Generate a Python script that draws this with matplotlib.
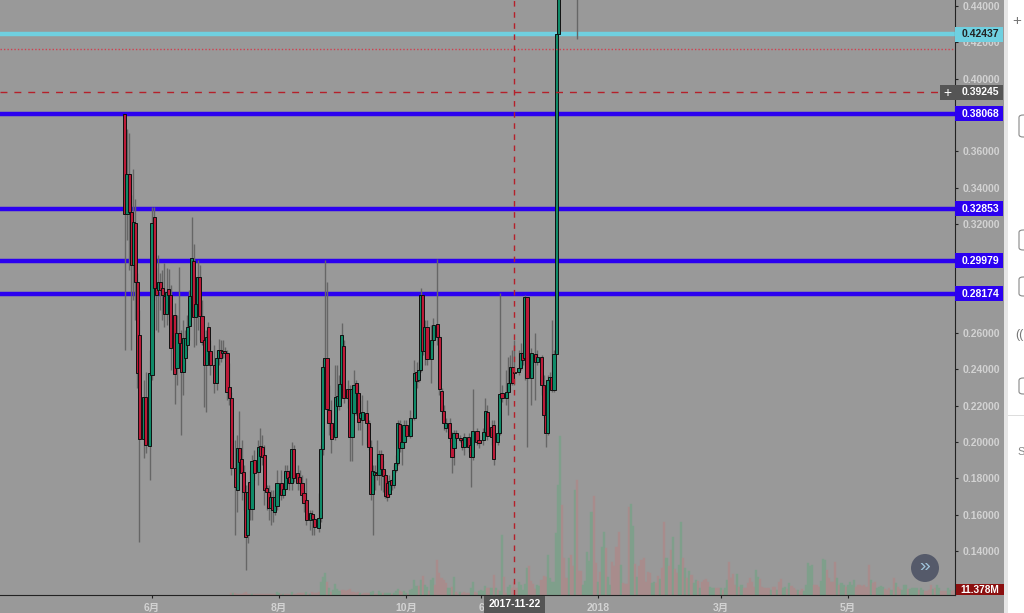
import matplotlib
matplotlib.use("Agg")
import matplotlib.pyplot as plt
from matplotlib.patches import Rectangle, Ellipse, FancyBboxPatch

plt.rcParams['font.family'] = ['Liberation Sans', 'Noto Sans CJK SC', 'DejaVu Sans']

# candles, day number counted from 2017-06-01
days = [-13,-12,-11,-10,-9,-8,-7,-6,-4,-3,-1,0,1,2,3,4,5,6,7,8,9,11,12,13,14,15,16,17,18,19,
        20,21,22,23,24,25,26,27,28,30,31,32,33,34,35,36,37,38,40,41,42,43,44,45,46,47,48,49,51,52,
        53,54,55,56,57,58,59,60,62,63,64,65,66,67,68,70,71,72,73,74,76,77,78,80,81,82,83,84,85,86,
        88,89,90,91,92,94,95,96,97,98,99,100,101,103,104,105,106,107,108,109,110,111,112,113,114,115,116,117,118,119,
        120,121,122,124,126,127,128,129,130,131,132,134,135,137,138,139,140,141,143,144,145,146,148,149,150,152,153,154,156,157,
        159,160,161,163,164,166,167,168,170,171,172,173,174,176,177,178,179,180,182,184,185,187,188,189,190,191,192,193,194,195,204]
opens = [.3805,.3255,.3475,.3266,.2975,.3206,.2881,.2589,.2017,.2248,.1978,.2369,.3238,.2848,.2837,.2881,.2848,.2804,.2705,.2842,.2809,.2699,.2407,.2600,.2545,.2385,.2462,.2534,.2639,.2804,
         .2996,.2688,.2760,.2908,.2694,.2562,.2424,.2633,.2501,.2424,.2325,.2462,.2507,.2490,.2501,.2490,.2303,.2242,.1857,.1736,.1967,.1906,.1835,.1725,.1488,.1780,.1631,.1901,.1835,.1978,
         .1972,.1928,.1747,.1725,.1637,.1697,.1615,.1648,.1774,.1708,.1741,.1840,.1807,.1774,.1961,.1829,.1807,.1774,.1719,.1681,.1571,.1604,.1576,.1527,.1582,.1961,.2413,.2462,.2176,.2105,
         .2028,.2198,.2198,.2319,.2529,.2292,.2292,.2028,.2160,.2325,.2270,.2132,.2121,.2160,.2105,.1972,.1714,.1818,.1829,.1818,.1934,.1851,.1818,.1774,.1714,.1791,.1763,.1846,.1884,.2099,
         .1967,.2000,.2094,.2033,.2132,.2385,.2341,.2396,.2809,.2501,.2633,.2457,.2562,.2650,.2578,.2281,.2171,.2077,.2105,.2022,.1967,.2050,.2022,.2011,.1972,.2028,.1983,.1917,.2061,.2011,
         .2011,.2055,.2165,.2083,.2094,.2000,.2050,.2270,.2242,.2275,.2325,.2413,.2385,.2385,.2407,.2490,.2462,.2798,.2352,.2484,.2440,.2468,.2314,.2149,.2050,.2341,.2358,.2286,.2484,.4246,.47]
closes = [.3255,.3475,.3266,.2975,.3211,.2881,.2380,.2017,.2248,.1983,.2380,.3206,.2848,.2809,.2881,.2837,.2809,.2705,.2826,.2809,.2517,.2374,.2600,.2545,.2385,.2573,.2573,.2633,.2804,.3013,
          .2688,.2760,.2908,.2694,.2551,.2424,.2578,.2501,.2424,.2325,.2462,.2507,.2462,.2501,.2490,.2275,.2242,.1857,.1752,.1967,.1890,.1829,.1725,.1477,.1725,.1631,.1895,.1829,.1972,.1923,
          .1917,.1736,.1725,.1637,.1697,.1626,.1697,.1774,.1708,.1741,.1840,.1802,.1774,.1961,.1802,.1774,.1774,.1708,.1664,.1571,.1609,.1576,.1532,.1582,.1961,.2413,.2462,.2182,.2105,.2017,
          .2248,.2253,.2319,.2589,.2242,.2242,.2028,.2292,.2314,.2270,.2110,.2160,.2165,.2105,.1972,.1714,.1840,.1835,.1818,.1934,.1851,.1813,.1703,.1697,.1785,.1763,.1846,.1884,.2105,.1967,
          .2000,.2094,.2033,.2132,.2380,.2336,.2396,.2809,.2501,.2633,.2457,.2562,.2644,.2578,.2292,.2171,.2105,.2105,.2022,.1917,.2050,.2022,.2011,.1972,.2028,.1972,.1917,.2061,.2000,.1994,
          .2055,.2171,.2033,.2028,.1906,.2050,.2264,.2242,.2275,.2325,.2413,.2325,.2380,.2407,.2490,.2451,.2798,.2352,.2490,.2440,.2468,.2314,.2149,.2050,.2341,.2358,.2286,.2484,.4246,.47,.48]
highs = [.3805,.3723,.3701,.3360,.3503,.3338,.2930,.2727,.2341,.2385,.2507,.3294,.3294,.2958,.3029,.2930,.2947,.2985,.2958,.2952,.2864,.2765,.2699,.2963,.2617,.2672,.2617,.2699,.2837,.3238,
         .3090,.2892,.3002,.2974,.2782,.2617,.2617,.2661,.2562,.2534,.2507,.2567,.2562,.2562,.2523,.2507,.2435,.2275,.2011,.2039,.2171,.2011,.1873,.1763,.1763,.1846,.1928,.1956,.2011,.2077,
         .2039,.1983,.1763,.1763,.1736,.1736,.1708,.1846,.1846,.1763,.1873,.1873,.1846,.2000,.1983,.1873,.1846,.1818,.1736,.1802,.1626,.1626,.1598,.1719,.1983,.2451,.3002,.2881,.2314,.2231,
         .2424,.2424,.2369,.2655,.2562,.2341,.2314,.2314,.2396,.2341,.2314,.2231,.2259,.2231,.2121,.2011,.1873,.1873,.2011,.1956,.1956,.1901,.1846,.1802,.1818,.1802,.1873,.1928,.2121,.2121,
         .2011,.2121,.2121,.2176,.2451,.2440,.2451,.2848,.2809,.2672,.2672,.2644,.2683,.3007,.2589,.2297,.2204,.2132,.2132,.2055,.2066,.2066,.2039,.2022,.2050,.2050,.2011,.2292,.2077,.2039,
         .2077,.2242,.2204,.2121,.2121,.2094,.2820,.2314,.2396,.2468,.2479,.2507,.2562,.2507,.2545,.2507,.2809,.2798,.2517,.2600,.2507,.2479,.2369,.2176,.2369,.2385,.2672,.2507,.4246,.475,.49]
lows = [.2507,.3112,.2947,.2507,.2782,.2672,.2297,.1449,.1912,.1939,.1791,.2341,.2782,.2617,.2606,.2727,.2672,.2633,.2644,.2672,.2396,.2209,.2314,.2451,.2039,.2259,.2396,.2507,.2562,.2727,
        .2523,.2534,.2617,.2562,.2534,.2193,.2165,.2479,.2369,.2270,.2286,.2424,.2440,.2462,.2462,.2231,.2204,.1818,.1488,.1615,.1736,.1681,.1626,.1296,.1444,.1571,.1571,.1791,.1763,.1846,
        .1873,.1653,.1626,.1571,.1543,.1560,.1598,.1626,.1681,.1692,.1725,.1763,.1736,.1736,.1780,.1736,.1736,.1681,.1615,.1543,.1516,.1488,.1488,.1505,.1560,.1928,.2385,.2176,.2039,.1939,
        .2011,.2176,.2176,.2259,.2215,.2187,.1895,.1895,.2149,.2149,.2066,.2066,.1983,.1983,.1956,.1681,.1488,.1736,.1791,.1763,.1736,.1725,.1692,.1675,.1697,.1736,.1747,.1835,.1873,.1945,
        .1873,.1967,.2011,.2022,.2121,.2297,.2330,.2385,.2479,.2424,.2424,.2325,.2534,.2534,.2259,.2121,.2066,.2055,.2000,.1829,.1873,.2011,.2000,.1956,.1928,.1945,.1752,.1901,.1983,.1967,
        .1983,.2039,.2011,.1983,.1873,.1983,.2039,.2220,.2204,.2149,.2314,.2314,.2314,.2369,.2396,.2424,.2341,.1972,.2204,.2231,.2424,.2259,.2132,.1972,.2039,.2314,.2275,.2275,.2484,.4246,.4218]

# volume in millions, one bar a day from day 38
vol_start = 38
vol_m = [3.8,5.3,4.6,2.3,2.3,1.5,4.6,6.8,2.3,2.3,2.3,2.3,2.3,1.5,1.5,1.5,1.5,1.5,1.5,1.5,1.5,2.3,6.1,3.8,2.3,1.5,1.5,3,2.3,6.1,3,3,4.6,3.8,3.8,5.3,6.1,2.3,3,6.8,4.6,3.8,
         7.6,30,42,49,30,15,6.1,11,24,14,9.1,11,11,9.1,11,14,6.1,7.6,4.6,7.6,4.6,3,3.8,4.6,4.6,7.6,9.1,3,3,8.4,3.8,4.6,5.3,4.6,3.8,3,4.6,9.1,14,9.1,7.6,9.1,4.6,3,11,14,
         34,21,21,34,44,23,19,9.1,34,38,23,80,49,38,34,27,15,17,19,42,7.6,3,6.1,3.8,6.1,3.8,3.8,15,29,7.6,4.6,9.1,11,9.1,21,17,17,
         15,46,15,11,8,137,42,4,19,23,15,30,15,29,23,11,24,62,66,32,24,14,23,21,34,43,40,91,38,30,30,141,251,361,204,85,38,84,91,66,239,262,55,55,23,32,97,78,188,226,72,29,53,110,144,106,40,23,74,65,110,144,68,27,25,24,201,207,157,70,42,65,80,84,30,52,51,
         27,29,27,44,36,61,166,84,65,103,131,59,49,68,166,85,61,38,55,46,27,34,32,15,30,34,36,30,19,15,17,15,15,17,11,15,34,74,38,47,23,47,19,23,15,17,27,38,30,19,57,42,36,19,17,17,15,11,19,19,11,30,36,17,19,14,27,21,17,11,11,9,14,8,23,72,65,
         68,23,23,19,32,82,80,57,38,30,30,76,38,23,27,23,19,23,29,23,34,19,23,23,21,23,19,68,34,27,30,15,19,21,19,14,11,15,11,38,27,19,14,11,23,23,14,14,15,15,17,11,17,11,9,9,11,23,14,17,23,15,9,9,8,15,11,9,11.4]
# days whose volume bar is green, all others are red
vol_up_days = [39,48,60,61,63,67,74,76,81,82,83,85,87,88,89,90,100,105,106,109,110,112,113,114,116,117,118,121,122,124,125,126,127,129,131,132,134,135,142,143,145,148,153,154,157,158,159,160,
               163,165,167,168,171,172,176,177,178,179,180,185,186,190,191,192,193,194,195,196,200,203,207,208,209,210,211,214,216,217,219,220,225,230,231,233,
               240,241,244,247,250,253,254,256,258,260,261,263,268,269,270,273,275,276,281,283,290,291,297,300,303,304,306,310,313,314,315,316,
               317,321,322,323,329,331,332,334,335,336,337,345,348,349,350,351,355,357,360,361,362,364,365,366,367,369,370,375,377,378,382,383]

level_vals = [0.38068, 0.32853, 0.29979, 0.28174]
cyan_val = 0.42437
dotted_val = 0.4163
cross_val = 0.39245
cross_day = 174
last_vol = '11.378M'

# 0.28, 0.30 and 0.38 sit behind the price tags in the picture
yticks = [0.14, 0.16, 0.18, 0.20, 0.22, 0.24, 0.26, 0.32, 0.34, 0.36, 0.40, 0.42, 0.44]
xtick_days = [0, 61, 122, 158, 214, 273, 334]
xtick_labels = ['6月', '8月', '10月', '6', '2018', '3月', '5月']

BG = '#999999'
fig = plt.figure(figsize=(10.24, 6.13), dpi=100, facecolor=BG)
W, H = 1024.0, 613.0

ax2 = fig.add_axes([0, 18 / H, 955 / W, 595 / H])
ax = fig.add_axes([0, 18 / H, 955 / W, 595 / H])
ax.patch.set_visible(False)
ax2.set_facecolor(BG)
xlim = (-72.97, 385.5)
ax.set_xlim(xlim)
ax.set_ylim(0.1158, 0.4433)
ax2.set_xlim(xlim)
ax2.set_ylim(0, 1354)
ax2.axis('off')

# volume underneath everything
vol_days = [vol_start + i for i in range(len(vol_m))]
vol_cols = ['#7f9f8b' if d in vol_up_days else '#a88c8c' for d in vol_days]
ax2.bar(vol_days, vol_m, width=1.0, color=vol_cols, edgecolor=vol_cols, linewidth=0.3, zorder=1)

# support and resistance lines
for v in level_vals:
    ax.axhline(v, color='#2b00f0', lw=3.2, zorder=1)
ax.axhline(cyan_val, color='#6fd0e0', lw=3.2, zorder=1)

# candles
ax.vlines(days, lows, highs, color='#666666', lw=1.0, zorder=2)
bottoms = [min(o, c) for o, c in zip(opens, closes)]
heights = [abs(o - c) for o, c in zip(opens, closes)]
cols = ['#0f8a68' if c > o else '#bc1a38' for o, c in zip(opens, closes)]
ax.bar(days, heights, bottom=bottoms, width=1.5, color=cols, edgecolor='#111111', linewidth=0.7, zorder=3)

# crosshair and dotted line
ax.axhline(dotted_val, color='#d04050', lw=1.0, ls=(0, (1, 1.5)), zorder=4)
ax.plot([xlim[0], 378], [cross_val, cross_val], color='#b5202a', lw=1.0, ls=(0, (5, 5)), zorder=4)
ax.axvline(cross_day, color='#b5202a', lw=1.0, ls=(0, (4, 4)), zorder=4)

for s in ['top', 'left']:
    ax.spines[s].set_visible(False)
ax.spines['right'].set_color('#222222')
ax.spines['bottom'].set_color('#222222')
ax.yaxis.tick_right()
ax.set_yticks(yticks)
ax.set_yticklabels(['%.5f' % t for t in yticks], fontsize=7.5, color='#d2d2d2', fontweight='bold')
ax.set_xticks(xtick_days)
ax.set_xticklabels(xtick_labels, fontsize=7.5, color='#d2d2d2', fontweight='bold')
ax.tick_params(axis='y', length=2.5, width=0.8, color='#222222', pad=3)
ax.tick_params(axis='x', length=2.5, width=0.8, color='#222222', pad=3)

# price tags on the axis
ytr = ax.get_yaxis_transform()


def tag(val, color, text, tcolor, h=0.0041):
    ax.add_patch(Rectangle((1.0, val - h), 0.0503, 2 * h, transform=ytr, color=color,
                           clip_on=False, zorder=10, lw=0))
    ax.text(1.0073, val, text, transform=ytr, color=tcolor, fontsize=7.5, fontweight='bold',
            va='center', ha='left', clip_on=False, zorder=11)


for v in level_vals:
    tag(v, '#2b00f0', '%.5f' % v, 'white')
tag(cyan_val, '#6fd0e0', '%.5f' % cyan_val, '#222222')
tag(cross_val, '#555555', '%.5f' % cross_val, 'white')


# pixel placed decorations on the figure
def box(x0, y0, x1, y1, color, z=20):
    fig.add_artist(Rectangle((x0 / W, 1 - y1 / H), (x1 - x0) / W, (y1 - y0) / H, transform=fig.transFigure,
                             color=color, lw=0, zorder=z))


def label(x, y, s, color, size=7.5, weight='bold', ha='center'):
    fig.text(x / W, 1 - y / H, s, color=color, fontsize=size, fontweight=weight, ha=ha, va='center', zorder=22)


box(940, 85, 955, 100, '#555555')
label(947.5, 92.5, '+', 'white', size=10, weight='normal')
box(956, 584, 1004, 594.5, '#8b0f0f')
label(980, 590, last_vol, 'white', size=7.3)
box(484, 596, 545, 613, '#555555')
label(514.5, 604, '2017-11-22', 'white')

# scroll button
fig.add_artist(Ellipse((925 / W, 1 - 568 / H), 28 / W, 28 / H, transform=fig.transFigure,
                       color='#555a6a', lw=0, zorder=20))
label(925, 567, '»', '#9fc4dc', size=14, weight='normal')

# toolbar on the right, cut off by the screenshot
box(1004, 0, 1024, 613, 'white', z=15)
box(1004, 0, 1008, 613, '#e6e6e6', z=16)
for y0, y1 in [(115, 137), (230, 250), (277, 296), (378, 394)]:
    fig.add_artist(FancyBboxPatch((1019 / W, 1 - y1 / H), 10 / W, (y1 - y0) / H,
                                  boxstyle='round,pad=0,rounding_size=0.004',
                                  transform=fig.transFigure, fc='white', ec='#888888', lw=0.8, zorder=17))
label(1017, 21, '+', '#777777', size=11, weight='normal')
label(1019, 335, '((', '#777777', size=9, weight='normal')
box(1008, 415, 1024, 416, '#dddddd', z=17)
label(1021, 452, 'S', '#888888', size=8, weight='normal')

fig.savefig('out.png', dpi=100, facecolor=BG)
